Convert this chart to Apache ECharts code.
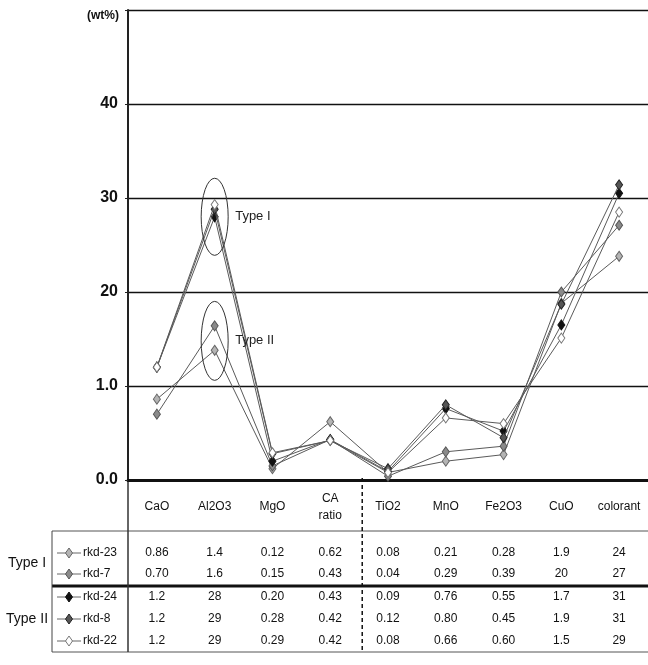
<!DOCTYPE html>
<html>
<head>
<meta charset="utf-8">
<script src="https://cdn.jsdelivr.net/npm/echarts@6/dist/echarts.min.js"></script>
<style>
  html, body { margin: 0; padding: 0; background: #fff; }
  #chart { width: 648px; height: 665px; }
</style>
</head>
<body>
<div id="chart"></div>
<script>
// Oxide categories along the x axis
const categories = ['CaO', 'Al2O3', 'MgO', 'CA\nratio', 'TiO2', 'MnO', 'Fe2O3', 'CuO', 'colorant'];
// Y tick labels as printed
const yTickLabels = ['0.0', '1.0', '20', '30', '40', ''];
const sampleNames = ['rkd-23', 'rkd-7', 'rkd-24', 'rkd-8', 'rkd-22'];
const groupNames = ['Type I', 'Type II'];

// Plotted values per sample (chart units)
const rkd23 = [8.6, 13.8, 1.2, 6.2, 0.8, 2.0, 2.7, 18.8, 23.8];
const rkd7  = [7.0, 16.4, 1.5, 4.3, 0.4, 3.0, 3.6, 20.0, 27.1];
const rkd24 = [12.0, 28.0, 2.0, 4.3, 0.9, 7.6, 5.2, 16.5, 30.5];
const rkd8  = [12.0, 28.8, 2.8, 4.2, 1.2, 8.0, 4.5, 18.7, 31.4];
const rkd22 = [12.0, 29.3, 2.9, 4.2, 0.8, 6.6, 6.0, 15.1, 28.5];

// Data table text under the axis
const tbl23 = ['0.86', '1.4', '0.12', '0.62', '0.08', '0.21', '0.28', '1.9', '24'];
const tbl7  = ['0.70', '1.6', '0.15', '0.43', '0.04', '0.29', '0.39', '20', '27'];
const tbl24 = ['1.2', '28', '0.20', '0.43', '0.09', '0.76', '0.55', '1.7', '31'];
const tbl8  = ['1.2', '29', '0.28', '0.42', '0.12', '0.80', '0.45', '1.9', '31'];
const tbl22 = ['1.2', '29', '0.29', '0.42', '0.08', '0.66', '0.60', '1.5', '29'];

// Cluster outlines: [category index, centre value, half height]
const clusterIndex = [1, 1];
const clusterCentre = [28.0, 14.8];
const clusterHalf = [4.1, 4.2];

const FONT = '"Liberation Sans", Arial, sans-serif';
const GRID = { left: 128, top: 10, width: 527, height: 470 };
const band = GRID.width / categories.length;
const axisY = GRID.top + GRID.height;

const seriesData = [rkd23, rkd7, rkd24, rkd8, rkd22];
const tableRows = [tbl23, tbl7, tbl24, tbl8, tbl22];
const markerStyles = [
  { color: '#b4b4b4', borderColor: '#666' },
  { color: '#8a8a8a', borderColor: '#555' },
  { color: '#111', borderColor: '#111' },
  { color: '#555', borderColor: '#222' },
  { color: '#fff', borderColor: '#777' }
];
const rowOffsets = [73, 94, 117, 139, 161];

const chart = echarts.init(document.getElementById('chart'), null, { renderer: 'canvas' });

const lineSeries = sampleNames.map((name, i) => ({
  name: name,
  type: 'line',
  data: seriesData[i],
  symbol: 'diamond',
  symbolSize: [7, 10],
  lineStyle: { color: '#5a5a5a', width: 1 },
  itemStyle: { color: markerStyles[i].color, borderColor: markerStyles[i].borderColor, borderWidth: 1 },
  z: 3 + i,
  animation: false
}));

const clusterSeries = {
  type: 'custom',
  clip: false,
  z: 10,
  silent: true,
  data: clusterIndex.map((c, i) => [c, clusterCentre[i], clusterHalf[i], i]),
  renderItem: function (params, api) {
    const c = api.coord([api.value(0), api.value(1)]);
    const t = api.coord([api.value(0), api.value(1) + api.value(2)]);
    const ry = c[1] - t[1];
    const rx = 13.5;
    const d = 'M' + (c[0] - rx) + ' ' + c[1] +
      ' A' + rx + ' ' + ry + ' 0 1 0 ' + (c[0] + rx) + ' ' + c[1] +
      ' A' + rx + ' ' + ry + ' 0 1 0 ' + (c[0] - rx) + ' ' + c[1] + ' Z';
    return {
      type: 'group',
      children: [
        { type: 'path', shape: { pathData: d }, style: { fill: null, stroke: '#333', lineWidth: 1 } },
        { type: 'text', x: c[0] + rx + 7, y: c[1], style: {
          text: groupNames[api.value(3)], fill: '#222', font: '13px ' + FONT,
          verticalAlign: 'middle', align: 'left' } }
      ]
    };
  }
};

const tableSeries = {
  type: 'custom',
  clip: false,
  silent: true,
  z: 10,
  data: categories.map((c, i) => [i, 0]),
  renderItem: function (params, api) {
    const idx = api.value(0);
    const p = api.coord([idx, 0]);
    return {
      type: 'group',
      children: tableRows.map((row, r) => ({
        type: 'text', x: p[0], y: p[1] + rowOffsets[r],
        style: { text: row[idx], fill: '#111', font: '12px ' + FONT, align: 'center', verticalAlign: 'middle' }
      }))
    };
  }
};

// Table frame, legend glyphs and group captions
const graphics = [];
const tableLeft = 52, tableRight = 648;
const rowLine = (y, w, color) => ({ type: 'line', shape: { x1: tableLeft, y1: y, x2: tableRight, y2: y }, style: { stroke: color, lineWidth: w } });
graphics.push(rowLine(531, 1, '#555'));
graphics.push(rowLine(586, 3, '#111'));
graphics.push(rowLine(652, 1, '#555'));
graphics.push({ type: 'line', shape: { x1: tableLeft, y1: 531, x2: tableLeft, y2: 652 }, style: { stroke: '#444', lineWidth: 1 } });
graphics.push({ type: 'line', shape: { x1: GRID.left, y1: axisY, x2: GRID.left, y2: 652 }, style: { stroke: '#333', lineWidth: 1.5 } });
const dashX = GRID.left + band * 4;
graphics.push({ type: 'line', shape: { x1: dashX, y1: axisY - 2, x2: dashX, y2: 652 }, style: { stroke: '#111', lineWidth: 1.5, lineDash: [4, 3] } });
sampleNames.forEach((name, i) => {
  const y = axisY + rowOffsets[i];
  graphics.push({ type: 'line', shape: { x1: 57, y1: y, x2: 81, y2: y }, style: { stroke: '#666', lineWidth: 1 } });
  graphics.push({ type: 'polygon', shape: { points: [[69, y - 5], [72.5, y], [69, y + 5], [65.5, y]] },
    style: { fill: markerStyles[i].color, stroke: markerStyles[i].borderColor, lineWidth: 1 } });
  graphics.push({ type: 'text', x: 83, y: y, style: { text: name, fill: '#111', font: '12px ' + FONT, verticalAlign: 'middle' } });
});
graphics.push({ type: 'text', x: 8, y: axisY + 83, style: { text: groupNames[0], fill: '#111', font: '14px ' + FONT, verticalAlign: 'middle' } });
graphics.push({ type: 'text', x: 6, y: axisY + 139, style: { text: groupNames[1], fill: '#111', font: '14px ' + FONT, verticalAlign: 'middle' } });
graphics.push({ type: 'text', x: 119, y: 16, style: { text: '(wt%)', fill: '#111', font: 'bold 12px ' + FONT, align: 'right', verticalAlign: 'middle' } });

chart.setOption({
  animation: false,
  backgroundColor: '#fff',
  grid: GRID,
  xAxis: {
    type: 'category',
    data: categories,
    boundaryGap: true,
    axisLine: { lineStyle: { color: '#111', width: 3 } },
    axisTick: { show: false },
    axisLabel: { color: '#111', fontSize: 12, fontFamily: FONT, margin: 27, verticalAlign: 'middle', lineHeight: 17, interval: 0 },
    splitLine: { show: false }
  },
  yAxis: {
    type: 'value',
    min: 0, max: 50, interval: 10,
    axisLine: { show: true, lineStyle: { color: '#222', width: 2 } },
    axisTick: { show: true, length: 3, lineStyle: { color: '#222' } },
    axisLabel: {
      color: '#111', fontSize: 16, fontWeight: 'bold', fontFamily: FONT, margin: 10,
      formatter: v => yTickLabels[Math.round(v / 10)]
    },
    splitLine: { show: true, lineStyle: { color: '#111', width: 1.3 } }
  },
  graphic: graphics,
  series: lineSeries.concat([clusterSeries, tableSeries])
});
</script>
</body>
</html>
